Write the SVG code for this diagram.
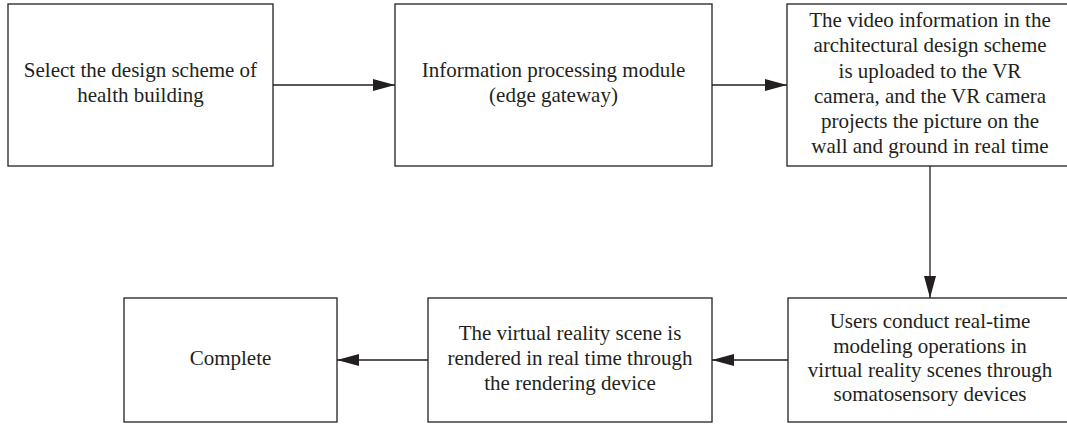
<svg xmlns="http://www.w3.org/2000/svg" width="1067" height="424" viewBox="0 0 1067 424">
  <style>
    .box { fill: #ffffff; stroke: #231f20; stroke-width: 1.3; }
    .lbl { font-family: "Liberation Serif", "Times New Roman", serif; font-size: 21px; fill: #231f20; text-anchor: middle; }
    .link { stroke: #231f20; stroke-width: 1.3; fill: none; }
  </style>
  <defs>
    <marker id="arrow" viewBox="0 0 22 12" refX="22" refY="6" markerWidth="22" markerHeight="12" markerUnits="userSpaceOnUse" orient="auto">
      <path d="M0,0 L22,6 L0,12 Z" fill="#231f20"/>
    </marker>
  </defs>
  <rect width="1067" height="424" fill="#ffffff"/>

  <g id="node-select">
    <rect class="box" x="8" y="4" width="265" height="162"/>
    <text class="lbl" x="140.5" y="77">Select the design scheme of</text>
    <text class="lbl" x="140.5" y="102">health building</text>
  </g>

  <g id="node-processing">
    <rect class="box" x="395" y="4" width="317" height="162"/>
    <text class="lbl" x="553.5" y="77">Information processing module</text>
    <text class="lbl" x="553.5" y="102">(edge gateway)</text>
  </g>

  <g id="node-video">
    <rect class="box" x="787" y="4" width="286" height="162"/>
    <text class="lbl" x="930" y="27">The video information in the</text>
    <text class="lbl" x="930" y="52">architectural design scheme</text>
    <text class="lbl" x="930" y="77.5">is uploaded to the VR</text>
    <text class="lbl" x="930" y="102.5">camera, and the VR camera</text>
    <text class="lbl" x="930" y="128">projects the picture on the</text>
    <text class="lbl" x="930" y="153">wall and ground in real time</text>
  </g>

  <g id="node-users">
    <rect class="box" x="788" y="298" width="285" height="124"/>
    <text class="lbl" x="930" y="328">Users conduct real-time</text>
    <text class="lbl" x="930" y="352.5">modeling operations in</text>
    <text class="lbl" x="930" y="377">virtual reality scenes through</text>
    <text class="lbl" x="930" y="401">somatosensory devices</text>
  </g>

  <g id="node-render">
    <rect class="box" x="428" y="298" width="284" height="124"/>
    <text class="lbl" x="570" y="340">The virtual reality scene is</text>
    <text class="lbl" x="570" y="365">rendered in real time through</text>
    <text class="lbl" x="570" y="390">the rendering device</text>
  </g>

  <g id="node-complete">
    <rect class="box" x="124" y="298" width="213" height="124"/>
    <text class="lbl" x="230.5" y="365">Complete</text>
  </g>

  <g id="connectors">
    <line class="link" x1="273" y1="85" x2="395" y2="85" marker-end="url(#arrow)"/>
    <line class="link" x1="712" y1="85" x2="787" y2="85" marker-end="url(#arrow)"/>
    <line class="link" x1="930" y1="166" x2="930" y2="298" marker-end="url(#arrow)"/>
    <line class="link" x1="788" y1="360" x2="712" y2="360" marker-end="url(#arrow)"/>
    <line class="link" x1="428" y1="360" x2="337" y2="360" marker-end="url(#arrow)"/>
  </g>
</svg>
